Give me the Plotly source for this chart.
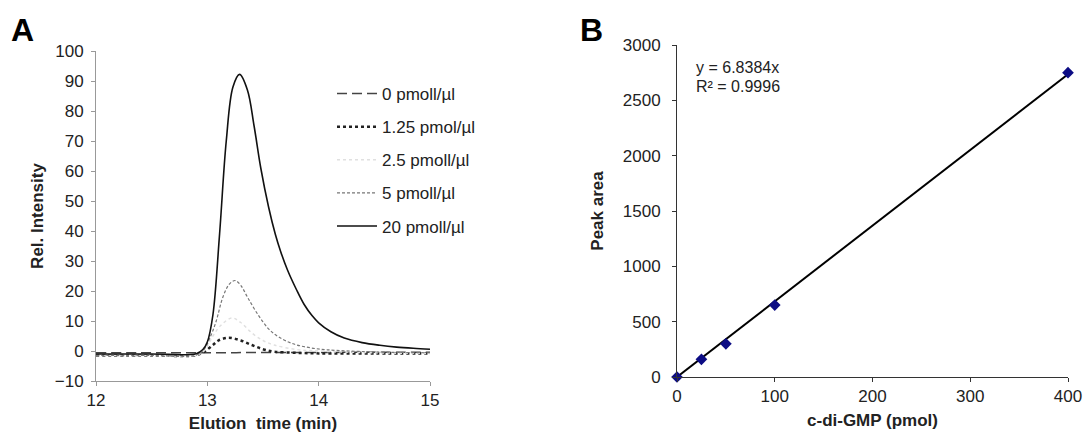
import plotly.graph_objects as go

# ---------------- Panel A data ----------------
t_0 = [12.0, 12.5, 13.0, 13.5, 14.0, 14.5, 15.0]
i_0 = [-0.6, -0.6, -0.6, -0.5, -0.5, -0.4, -0.4]

t_125 = [12.0, 12.5, 12.9, 12.97, 13.05, 13.1, 13.19, 13.3, 13.4, 13.5, 13.6, 13.8, 14.0, 14.5, 15.0]
i_125 = [-1.5, -1.5, -1.4, -0.3, 2.0, 3.5, 4.4, 3.5, 2.0, 0.6, -0.2, -0.6, -0.8, -0.8, -0.8]

t_25 = [12.0, 12.5, 12.9, 12.97, 13.05, 13.12, 13.22, 13.3, 13.4, 13.5, 13.6, 13.8, 14.0, 14.5, 15.0]
i_25 = [-1.5, -1.5, -1.4, 0.0, 5.0, 8.5, 11.0, 9.5, 6.0, 3.5, 2.0, 0.5, 0.0, -0.6, -0.8]

t_5 = [12.0, 12.5, 12.9, 12.97, 13.03, 13.08, 13.14, 13.2, 13.25, 13.3, 13.36, 13.45, 13.55, 13.64, 13.77, 13.92, 14.08, 14.5, 15.0]
i_5 = [-1.5, -1.5, -1.4, 0.5, 5.0, 10.0, 18.0, 22.4, 23.5, 21.9, 18.0, 12.4, 7.4, 4.7, 2.4, 1.1, 0.4, -0.3, -0.6]

t_20 = [12.0, 12.5, 12.9, 12.96, 13.0, 13.05, 13.11, 13.17, 13.23, 13.29, 13.36, 13.42, 13.48, 13.55, 13.61,
        13.66, 13.72, 13.8, 13.87, 13.94, 14.0, 14.11, 14.23, 14.39, 14.55, 14.7, 14.85, 15.0]
i_20 = [-1.0, -1.0, -0.9, 0.5, 3.0, 12.0, 39.0, 70.0, 88.0, 92.2, 87.0, 75.0, 61.0, 48.0, 39.0,
        33.0, 27.0, 20.5, 15.5, 11.8, 9.4, 6.4, 4.3, 2.8, 1.9, 1.3, 0.9, 0.6]

# ---------------- Panel B data ----------------
amount_pmol = [0, 25, 50, 100, 400]
peak_area = [0, 160, 300, 650, 2750]
slope = 6.8384
r2 = 0.9996
fit_x = [0, 400]

FONT = "Liberation Sans, Arial, sans-serif"
TXT = "#222222"
FS = 17

fig = go.Figure()

series = [
    ("0 pmoll/µl", t_0, i_0, dict(color="#444444", width=1.5, dash="10px,5px")),
    ("1.25 pmol/µl", t_125, i_125, dict(color="#222222", width=2.5, dash="dot")),
    ("2.5 pmoll/µl", t_25, i_25, dict(color="#e0e0e0", width=1.5, dash="dot")),
    ("5 pmoll/µl", t_5, i_5, dict(color="#777777", width=1.2, dash="3px,2px")),
    ("20 pmoll/µl", t_20, i_20, dict(color="#111111", width=1.6)),
]
for k, (name, xs, ys, ln) in enumerate(series):
    fig.add_trace(go.Scatter(x=xs, y=ys, mode="lines", name=name,
                             line=dict(shape="spline", smoothing=1.0, **ln),
                             xaxis="x", yaxis="y", legendgroup=f"g{k}"))

fig.add_trace(go.Scatter(x=fit_x, y=[slope * v for v in fit_x], mode="lines", line=dict(color="#000000", width=2),
                         xaxis="x2", yaxis="y2", showlegend=False))
fig.add_trace(go.Scatter(x=amount_pmol, y=peak_area, mode="markers",
                         marker=dict(symbol="diamond", color="#0c0c84", size=9),
                         xaxis="x2", yaxis="y2", showlegend=False, cliponaxis=False))

W, H = 1085, 436
axcommon = dict(showgrid=False, zeroline=False, ticks="outside", ticklen=4, showline=True, automargin=False,
                tickfont=dict(family=FONT, size=FS, color=TXT))
tfont = dict(family=FONT, size=FS, color=TXT)

fig.update_layout(
    width=W, height=H, margin=dict(l=0, r=0, t=0, b=0, autoexpand=False),
    paper_bgcolor="white", plot_bgcolor="white",
    font=dict(family=FONT, size=FS, color=TXT),
    xaxis=dict(domain=[96 / W, 430 / W], range=[12, 15], dtick=1, anchor="y",
               linecolor="#999999", tickcolor="#999999",
               title=dict(text="<b>Elution  time (min)</b>", font=tfont, standoff=7),
               **axcommon),
    yaxis=dict(domain=[1 - 381 / H, 1 - 51 / H], range=[-10, 100], dtick=10, anchor="x",
               linecolor="#999999", tickcolor="#999999", ticklabelstandoff=4,
               title=dict(text="<b>Rel. Intensity</b>", font=tfont, standoff=6),
               **axcommon),
    xaxis2=dict(domain=[677 / W, 1068 / W], range=[0, 400], dtick=100, anchor="y2",
                linecolor="#333333", tickcolor="#333333",
                title=dict(text="<b>c-di-GMP (pmol)</b>", font=tfont, standoff=8),
                **axcommon),
    yaxis2=dict(domain=[1 - 377 / H, 1 - 45 / H], range=[0, 3000], dtick=500, anchor="x2",
                linecolor="#333333", tickcolor="#333333", ticklabelstandoff=8,
                title=dict(text="<b>Peak area</b>", font=tfont, standoff=14),
                **axcommon),
    legend=dict(x=332 / W, y=1 - 76 / H, xanchor="left", yanchor="top", traceorder="grouped",
                tracegroupgap=8, itemwidth=40, bgcolor="rgba(0,0,0,0)",
                font=dict(family=FONT, size=FS, color=TXT)),
    annotations=[
        dict(text="<b>A</b>", x=9 / W, y=1 - 30 / H, xref="paper", yref="paper", xanchor="left", yanchor="middle",
             showarrow=False, font=dict(family=FONT, size=32, color="#000000")),
        dict(text="<b>B</b>", x=578 / W, y=1 - 30 / H, xref="paper", yref="paper", xanchor="left", yanchor="middle",
             showarrow=False, font=dict(family=FONT, size=32, color="#000000")),
        dict(text=f"y = {slope}x", x=694 / W, y=1 - 68 / H, xref="paper", yref="paper",
             xanchor="left", yanchor="middle", align="left", showarrow=False,
             font=dict(family=FONT, size=16, color=TXT)),
        dict(text=f"R² = {r2}", x=694 / W, y=1 - 87 / H, xref="paper", yref="paper",
             xanchor="left", yanchor="middle", align="left", showarrow=False,
             font=dict(family=FONT, size=16, color=TXT)),
    ],
)

fig.write_html("out.html", config={"displayModeBar": False},
               post_script="document.body.style.margin='0';")
